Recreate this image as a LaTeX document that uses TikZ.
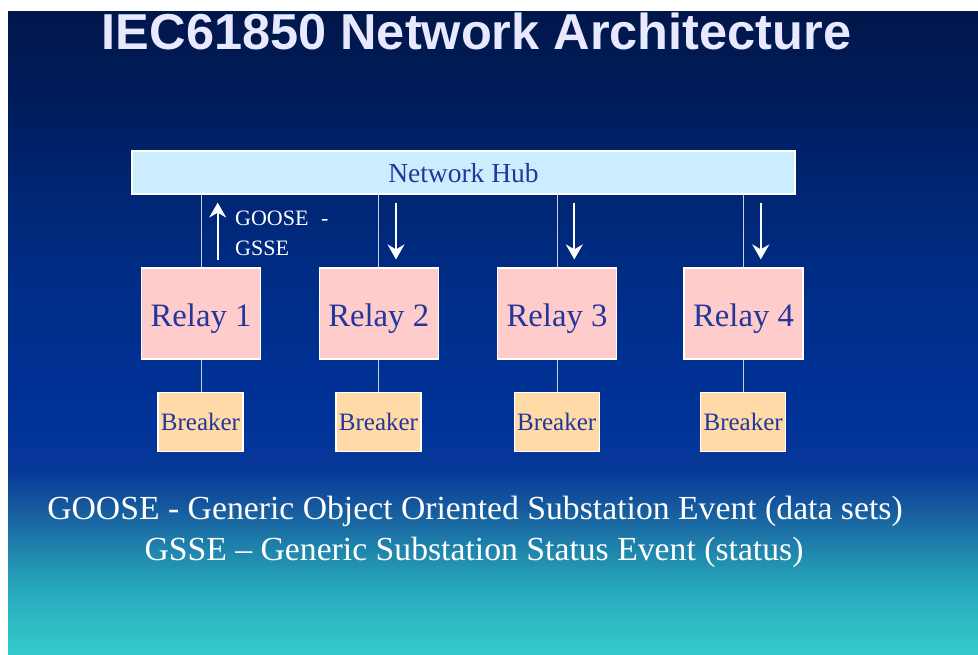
\documentclass[tikz,border=0pt]{standalone}
\usepackage{fontspec}
\setmainfont{Liberation Serif}
\newfontfamily\headfont{Liberation Sans}
\usetikzlibrary{arrows.meta,calc}

% vertical backdrop: cyan at the foot, deep navy at the head
\pgfdeclareverticalshading{bgfade}{100bp}{%
  rgb(0bp)=(0.20,0.79,0.79);
  rgb(25bp)=(0.20,0.79,0.79);
  rgb(29.3bp)=(0.16,0.69,0.75);
  rgb(32.4bp)=(0.13,0.56,0.69);
  rgb(36.3bp)=(0.09,0.36,0.62);
  rgb(39.4bp)=(0.03,0.22,0.60);
  rgb(43.3bp)=(0.00,0.20,0.60);
  rgb(52.6bp)=(0.00,0.18,0.54);
  rgb(60.4bp)=(0.00,0.15,0.46);
  rgb(68.2bp)=(0.00,0.11,0.36);
  rgb(75bp)=(0.00,0.09,0.29);
  rgb(100bp)=(0.00,0.09,0.29)}

\definecolor{hubfill}{HTML}{CCECFF}
\definecolor{relayfill}{HTML}{FFCCCC}
\definecolor{breakerfill}{HTML}{FFD9A6}
\definecolor{boxtext}{RGB}{35,55,155}
\definecolor{wire}{RGB}{205,205,225}
\definecolor{headtext}{HTML}{E8E8FF}

\tikzset{
  box/.style={draw=white, line width=1.2pt, inner sep=0pt, text=boxtext, text depth=0pt},
  hubbox/.style={box, fill=hubfill, minimum width=663pt, minimum height=43pt,
    font=\fontsize{27.5}{32}\selectfont, text height=20.4pt},
  relaybox/.style={box, fill=relayfill, minimum width=119pt, minimum height=91pt,
    font=\fontsize{32.7}{38}\selectfont, text height=26.4pt},
  breakerbox/.style={box, fill=breakerfill, minimum width=85pt, minimum height=59pt,
    font=\fontsize{25}{30}\selectfont, text height=17pt},
  wireline/.style={draw=wire, line width=1pt},
  flow/.style={draw=white, line width=1.8pt,
    -{Stealth[length=15pt,width=17pt,inset=5pt]}},
  flowtag/.style={anchor=base west, inner sep=0pt, text=white,
    font=\fontsize{22}{30}\selectfont},
  legend/.style={anchor=base, inner sep=0pt, text=white,
    font=\fontsize{33.7}{40}\selectfont},
}

\begin{document}
\begin{tikzpicture}[x=1pt, y=-1pt]
\useasboundingbox (0,0) rectangle (978,655);
\fill[white] (0,0) rectangle (978,655);
\shade[shading=bgfade] (8,12) rectangle (978,655);

% heading
\node[anchor=base west, inner sep=0pt, text=headtext,
  font=\headfont\bfseries\fontsize{50.5}{60}\selectfont] (title) at (101.7,49.3)
  {IEC61850 Network Architecture};

% hub
\node[hubbox] (hub) at (463.5,172.5) {Network Hub};

% relays
\node[relaybox] (r1) at (201,313.5) {Relay 1};
\node[relaybox] (r2) at (378.7,313.5) {Relay 2};
\node[relaybox] (r3) at (557,313.5) {Relay 3};
\node[relaybox] (r4) at (743.5,313.5) {Relay 4};

% breakers
\node[breakerbox] (b1) at (200.5,422.2) {Breaker};
\node[breakerbox] (b2) at (378.5,422.2) {Breaker};
\node[breakerbox] (b3) at (556.7,422.2) {Breaker};
\node[breakerbox] (b4) at (743.2,422.2) {Breaker};

% wiring
\foreach \i in {1,2,3,4}{
  \draw[wireline] (r\i.north) -- (r\i.north |- hub.south);
  \draw[wireline] (r\i.south) -- (r\i.south |- b\i.north);
}

% message flow
\draw[flow] ([xshift=16.7pt,yshift=7pt]r1.north) -- ([xshift=16.7pt,yshift=-8pt]r1.north |- hub.south);
\foreach \i in {2,3,4}{
  \draw[flow] ([xshift=17.3pt,yshift=-8pt]r\i.north |- hub.south) -- ([xshift=17.3pt,yshift=8pt]r\i.north);
}

\node[flowtag] (tag1) at (235,225.7) {GOOSE\hspace{7pt} -};
\node[flowtag] (tag2) at (235,256) {GSSE};

% legend
\node[legend] (leg1) at (475,519.3) {GOOSE - Generic Object Oriented Substation Event (data sets)};
\node[legend] (leg2) at (474,560) {GSSE -- Generic Substation Status Event (status)};
\end{tikzpicture}
\end{document}
